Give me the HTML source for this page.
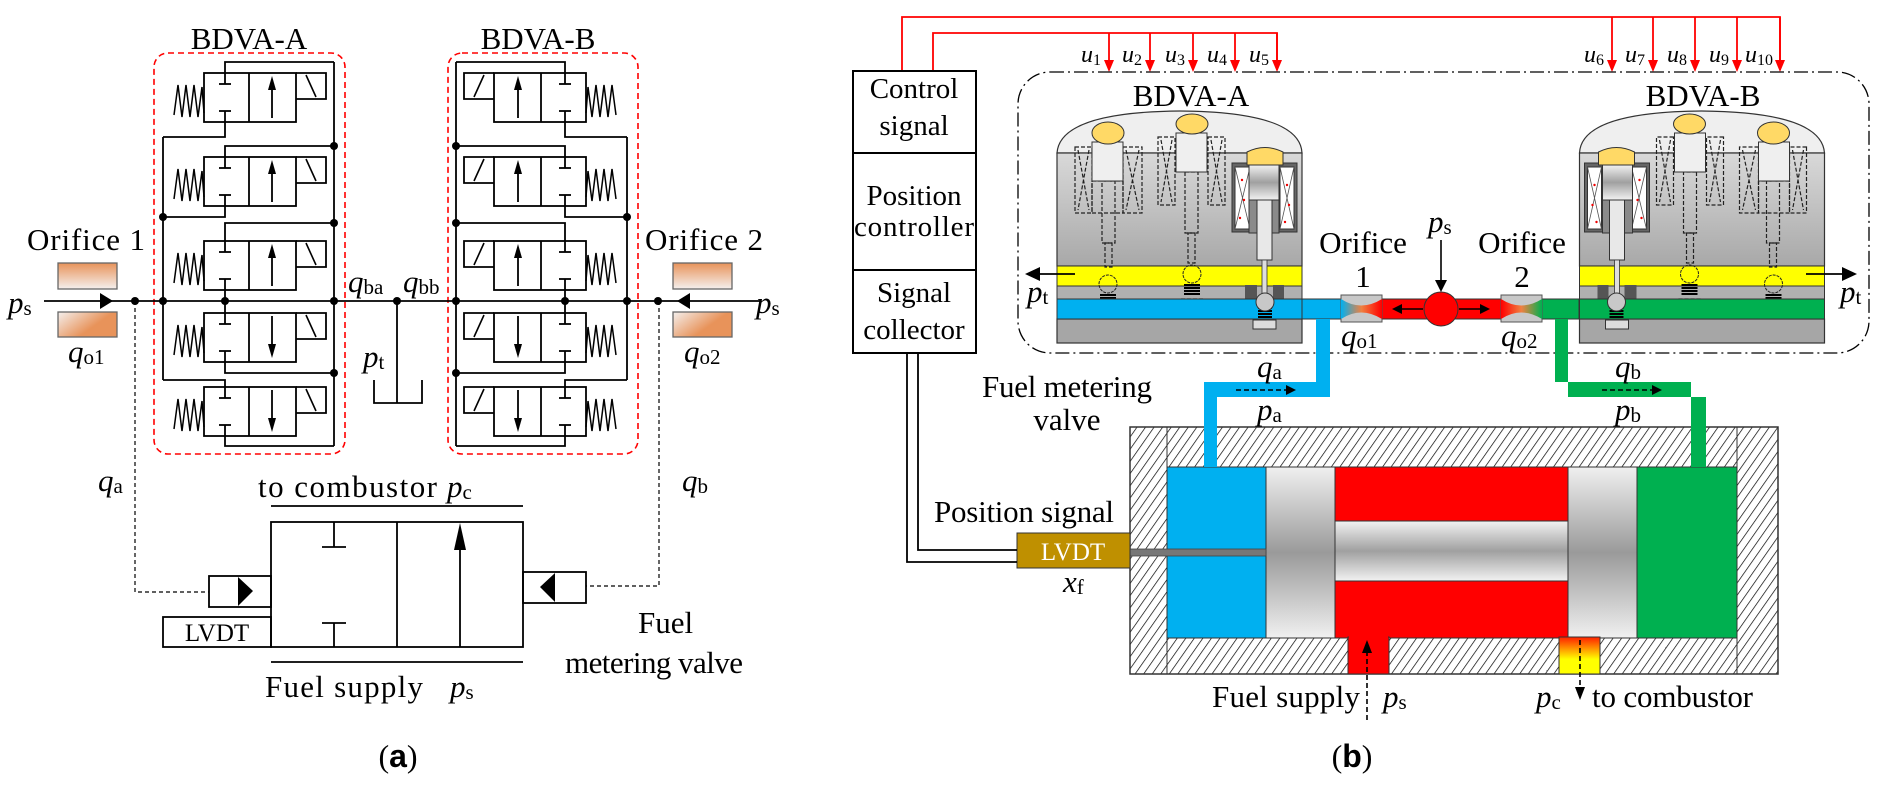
<!DOCTYPE html>
<html><head><meta charset="utf-8"><style>
html,body{margin:0;padding:0;background:#fff}
svg{display:block}
svg text{font-family:"Liberation Serif","DejaVu Serif","Times New Roman",serif;fill:#000}
.i{font-style:italic}
</style></head><body>
<svg width="1887" height="786" viewBox="0 0 1887 786" xmlns="http://www.w3.org/2000/svg" font-family="Liberation Serif, DejaVu Serif, serif">
<defs>
<linearGradient id="or1" x1="0" y1="0" x2="0" y2="1"><stop offset="0" stop-color="#e8935a"/><stop offset="1" stop-color="#f4f0ee"/></linearGradient>
<linearGradient id="or2" x1="0" y1="0" x2="1" y2="0.6"><stop offset="0" stop-color="#f4f0ee"/><stop offset="0.7" stop-color="#e8935a"/></linearGradient>
<linearGradient id="body" x1="0" y1="0" x2="0" y2="1"><stop offset="0" stop-color="#d9d9d9"/><stop offset="1" stop-color="#a8a8a8"/></linearGradient>
<linearGradient id="pist" x1="0" y1="0" x2="0" y2="1"><stop offset="0" stop-color="#f0f0f0"/><stop offset="0.5" stop-color="#9a9a9a"/><stop offset="1" stop-color="#f0f0f0"/></linearGradient>
<linearGradient id="rod" x1="0" y1="0" x2="0" y2="1"><stop offset="0" stop-color="#f2f2f2"/><stop offset="0.5" stop-color="#a0a0a0"/><stop offset="1" stop-color="#f2f2f2"/></linearGradient>
<linearGradient id="o1g" x1="0" y1="0" x2="1" y2="0"><stop offset="0" stop-color="#00b0f0"/><stop offset="0.5" stop-color="#f08040"/><stop offset="1" stop-color="#ff0000"/></linearGradient>
<linearGradient id="o2g" x1="0" y1="0" x2="1" y2="0"><stop offset="0" stop-color="#ff0000"/><stop offset="0.5" stop-color="#f08040"/><stop offset="1" stop-color="#00b050"/></linearGradient>
<linearGradient id="pcg" x1="0" y1="0" x2="0" y2="1"><stop offset="0" stop-color="#ff2000"/><stop offset="0.6" stop-color="#ffff00"/></linearGradient>
<pattern id="hatch" width="7" height="7" patternUnits="userSpaceOnUse" patternTransform="rotate(35)"><rect width="7" height="7" fill="#fff"/><line x1="0" y1="0" x2="0" y2="7" stroke="#000" stroke-width="1.4"/></pattern>
<g id="sv">
<rect x="204" y="0" width="92" height="49" fill="none" stroke="#000" stroke-width="1.8"/>
<line x1="249" y1="0" x2="249" y2="49" stroke="#000" stroke-width="1.8"/>
<polyline points="174,42 178,12 182,44 186,12 190,44 194,12 198,44 202,14 204,40" fill="none" stroke="#000" stroke-width="1.5"/>
<line x1="225" y1="0" x2="225" y2="11" stroke="#000" stroke-width="1.8"/><line x1="219" y1="11" x2="231" y2="11" stroke="#000" stroke-width="1.8"/>
<line x1="225" y1="49" x2="225" y2="38" stroke="#000" stroke-width="1.8"/><line x1="219" y1="38" x2="231" y2="38" stroke="#000" stroke-width="1.8"/>
<polyline points="296,0 326,0 326,26 296,26" fill="none" stroke="#000" stroke-width="1.8"/>
<line x1="306" y1="2" x2="316" y2="24" stroke="#000" stroke-width="1.6"/>
</g>
<g id="bv">
<path d="M1057,153 Q1060,112 1180,111 Q1300,112 1302,153 Z" fill="#efefef" stroke="#333" stroke-width="1.2"/>
<rect x="1057" y="153" width="245" height="113" fill="url(#body)" stroke="#333" stroke-width="1.2"/>
<rect x="1057" y="266" width="245" height="20" fill="#ffff00" stroke="#333" stroke-width="1"/>
<rect x="1057" y="286" width="245" height="13" fill="#b0b0b0" stroke="#333" stroke-width="1"/>
<rect x="1057" y="319" width="245" height="24" fill="#a6a6a6" stroke="#333" stroke-width="1.2"/>
<g fill="none" stroke="#222" stroke-width="1.2" stroke-dasharray="4,2">
<rect x="1075" y="147" width="17" height="66"/><rect x="1123" y="147" width="19" height="66"/>
<path d="M1078,150 L1089,210 M1089,150 L1078,210 M1126,150 L1139,210 M1139,150 L1126,210"/>
<rect x="1092" y="181" width="31" height="32"/>
<rect x="1102" y="181" width="13" height="62"/><rect x="1105" y="243" width="7" height="24"/>
<rect x="1097" y="307" width="22" height="10"/>
<rect x="1158" y="137" width="17" height="68"/><rect x="1208" y="137" width="17" height="68"/>
<path d="M1161,140 L1172,202 M1172,140 L1161,202 M1211,140 L1222,202 M1222,140 L1211,202"/>
<rect x="1185" y="172" width="13" height="61"/><rect x="1188" y="233" width="7" height="30"/>
<rect x="1181" y="299" width="22" height="8"/>
</g>
<rect x="1092" y="142" width="31" height="39" fill="#efefef" stroke="#333" stroke-width="1"/>
<rect x="1176" y="133" width="31" height="39" fill="#efefef" stroke="#333" stroke-width="1"/>
<ellipse cx="1108" cy="133" rx="16" ry="11" fill="#ffd966" stroke="#333"/>
<ellipse cx="1192" cy="124" rx="16" ry="10" fill="#ffd966" stroke="#333"/>
<circle cx="1108" cy="284" r="9" fill="none" stroke="#222" stroke-dasharray="3,1"/>
<circle cx="1192" cy="274" r="9" fill="none" stroke="#222" stroke-dasharray="3,1"/>
<path d="M1100,295 h16 M1100,298 h16 M1100,301 h16 M1100,304 h16 M1184,285 h16 M1184,288 h16 M1184,291 h16 M1184,294 h16" stroke="#000" stroke-width="2"/>
<rect x="1232" y="163" width="65" height="69" fill="#666" stroke="#333"/>
<rect x="1235" y="167" width="15" height="62" fill="#fff" stroke="#333"/>
<rect x="1280" y="167" width="14" height="62" fill="#fff" stroke="#333"/>
<path d="M1235,167 L1250,229 M1250,167 L1235,229 M1280,167 L1294,229 M1294,167 L1280,229" stroke="#555" stroke-width="0.8"/>
<g fill="#e00"><circle cx="1242" cy="180" r="1.2"/><circle cx="1244" cy="200" r="1.2"/><circle cx="1240" cy="218" r="1.2"/><circle cx="1287" cy="185" r="1.2"/><circle cx="1289" cy="205" r="1.2"/><circle cx="1285" cy="222" r="1.2"/></g>
<rect x="1249" y="200" width="30" height="33" fill="#8a8a8a" stroke="#333"/>
<rect x="1249" y="165" width="30" height="35" fill="url(#rod)" stroke="#333"/>
<path d="M1247,165 L1247,152 Q1265,143 1283,152 L1283,165 Z" fill="#ffd966" stroke="#333"/>
<rect x="1257" y="200" width="15" height="60" fill="#e8e8e8" stroke="#333"/>
<rect x="1262" y="260" width="5" height="37" fill="#ddd" stroke="#333" stroke-width="0.8"/>
<rect x="1245" y="285" width="12" height="14" fill="#555"/><rect x="1273" y="285" width="11" height="14" fill="#555"/>
</g>
<g id="bv2">
<rect x="1253" y="320" width="23" height="9" fill="#ddd" stroke="#333"/>
<path d="M1258,308 h14 M1258,311 h14 M1258,314 h14 M1258,317 h14" stroke="#000" stroke-width="2"/>
<circle cx="1265" cy="302" r="9" fill="#c8c8c8" stroke="#333"/>
</g>
</defs>

<text x="249" y="49" font-size="31" text-anchor="middle">BDVA-A</text>
<text x="538" y="49" font-size="31" text-anchor="middle">BDVA-B</text>
<rect x="154" y="53" width="191" height="401" rx="14" fill="none" stroke="#f00" stroke-width="1.6" stroke-dasharray="6,4"/>
<rect x="448" y="53" width="190" height="401" rx="14" fill="none" stroke="#f00" stroke-width="1.6" stroke-dasharray="6,4"/>

<g>
<use href="#sv" y="73"/><use href="#sv" y="157"/><use href="#sv" y="241"/><use href="#sv" y="313"/><use href="#sv" y="387"/>
</g>
<g transform="translate(790,0) scale(-1,1)">
<use href="#sv" y="73"/><use href="#sv" y="157"/><use href="#sv" y="241"/><use href="#sv" y="313"/><use href="#sv" y="387"/>
</g>
<g stroke="#000" stroke-width="1.8" fill="none">
<line x1="272" y1="118" x2="272" y2="80"/><line x1="272" y1="202" x2="272" y2="164"/><line x1="272" y1="286" x2="272" y2="248"/>
<line x1="272" y1="316" x2="272" y2="354"/><line x1="272" y1="390" x2="272" y2="428"/>
<line x1="518" y1="118" x2="518" y2="80"/><line x1="518" y1="202" x2="518" y2="164"/><line x1="518" y1="286" x2="518" y2="248"/>
<line x1="518" y1="316" x2="518" y2="354"/><line x1="518" y1="390" x2="518" y2="428"/>
<line x1="334" y1="62" x2="334" y2="446"/><line x1="163" y1="137" x2="163" y2="380"/>
<polyline points="225,73 225,62 334,62"/><polyline points="225,122 225,137 163,137"/>
<polyline points="225,157 225,146 334,146"/><polyline points="225,206 225,217 163,217"/>
<polyline points="225,241 225,223 334,223"/><line x1="225" y1="290" x2="225" y2="313"/>
<polyline points="225,362 225,373 334,373"/><polyline points="163,380 225,380 225,387"/>
<polyline points="225,436 225,446 334,446"/>
<line x1="456" y1="62" x2="456" y2="446"/><line x1="627" y1="137" x2="627" y2="380"/>
<polyline points="565,73 565,62 456,62"/><polyline points="565,122 565,137 627,137"/>
<polyline points="565,157 565,146 456,146"/><polyline points="565,206 565,217 627,217"/>
<polyline points="565,241 565,223 456,223"/><line x1="565" y1="290" x2="565" y2="313"/>
<polyline points="565,362 565,373 456,373"/><polyline points="627,380 565,380 565,387"/>
<polyline points="565,436 565,446 456,446"/>
<line x1="44" y1="301" x2="760" y2="301"/>
<line x1="397" y1="301" x2="397" y2="403"/>
<polyline points="374,380 374,403 422,403 422,380"/>
</g>
<g fill="#000">
<polygon points="113,301 100,293 100,309"/><polygon points="677,301 690,293 690,309"/>
<polygon points="272,76 268,90 276,90"/><polygon points="272,160 268,174 276,174"/><polygon points="272,244 268,258 276,258"/>
<polygon points="272,358 268,344 276,344"/><polygon points="272,432 268,418 276,418"/>
<polygon points="518,76 514,90 522,90"/><polygon points="518,160 514,174 522,174"/><polygon points="518,244 514,258 522,258"/>
<polygon points="518,358 514,344 522,344"/><polygon points="518,432 514,418 522,418"/>
<circle cx="135" cy="301" r="4"/><circle cx="163" cy="301" r="4"/><circle cx="225" cy="301" r="4"/><circle cx="334" cy="301" r="4"/>
<circle cx="397" cy="301" r="4"/><circle cx="456" cy="301" r="4"/><circle cx="565" cy="301" r="4"/><circle cx="627" cy="301" r="4"/><circle cx="658" cy="301" r="4"/>
<circle cx="334" cy="146" r="4"/><circle cx="163" cy="217" r="4"/><circle cx="334" cy="223" r="4"/><circle cx="334" cy="373" r="4"/>
<circle cx="456" cy="146" r="4"/><circle cx="627" cy="217" r="4"/><circle cx="456" cy="223" r="4"/><circle cx="456" cy="373" r="4"/>
</g>
<rect x="58" y="263" width="59" height="26" fill="url(#or1)" stroke="#666" stroke-width="1.3"/>
<rect x="58" y="312" width="59" height="25" fill="url(#or2)" stroke="#666" stroke-width="1.3"/>
<rect x="673" y="263" width="59" height="26" fill="url(#or1)" stroke="#666" stroke-width="1.3"/>
<rect x="673" y="312" width="59" height="25" fill="url(#or2)" stroke="#666" stroke-width="1.3"/>
<text x="27" y="250" font-size="31" textLength="118">Orifice 1</text>
<text x="645" y="250" font-size="31" textLength="118">Orifice 2</text>
<text x="8" y="313" font-size="31" class="i">p<tspan font-size="21" font-style="normal" dy="2">s</tspan></text>
<text x="756" y="313" font-size="31" class="i">p<tspan font-size="21" font-style="normal" dy="2">s</tspan></text>
<text x="68" y="362" font-size="31" class="i">q<tspan font-size="21" font-style="normal" dy="2">o1</tspan></text>
<text x="684" y="362" font-size="31" class="i">q<tspan font-size="21" font-style="normal" dy="2">o2</tspan></text>
<text x="348" y="292" font-size="31" class="i">q<tspan font-size="21" font-style="normal" dy="2">ba</tspan></text>
<text x="403" y="292" font-size="31" class="i">q<tspan font-size="21" font-style="normal" dy="2">bb</tspan></text>
<text x="363" y="367" font-size="31" class="i">p<tspan font-size="21" font-style="normal" dy="2">t</tspan></text>

<g stroke="#000" stroke-width="1.2" stroke-dasharray="4,3" fill="none">
<polyline points="135,301 135,592 209,592"/><polyline points="659,301 659,586 586,586"/>
</g>
<text x="98" y="491" font-size="31" class="i">q<tspan font-size="21" font-style="normal" dy="2">a</tspan></text>
<text x="682" y="491" font-size="31" class="i">q<tspan font-size="21" font-style="normal" dy="2">b</tspan></text>

<g stroke="#000" stroke-width="1.8" fill="none">
<rect x="271" y="522" width="252" height="125"/>
<line x1="397" y1="522" x2="397" y2="647"/>
<line x1="460" y1="647" x2="460" y2="540"/>
<line x1="334" y1="522" x2="334" y2="547"/><line x1="322" y1="547" x2="346" y2="547"/>
<line x1="334" y1="647" x2="334" y2="623"/><line x1="322" y1="623" x2="346" y2="623"/>
<line x1="271" y1="506" x2="523" y2="506"/><line x1="271" y1="662" x2="523" y2="662"/>
<rect x="209" y="576" width="62" height="31"/>
<rect x="523" y="572" width="63" height="31"/>
<rect x="163" y="617" width="108" height="30"/>
</g>
<g fill="#000">
<polygon points="460,523 454,550 466,550"/>
<polygon points="238,577 253,591 238,606"/>
<polygon points="555,573 540,587 555,602"/>
</g>
<text x="217" y="641" font-size="25" text-anchor="middle" dx="0"><tspan x="217">LVDT</tspan></text>
<text x="258" y="497" font-size="31" textLength="179">to combustor</text>
<text x="447" y="497" font-size="31" class="i">p<tspan font-size="21" font-style="normal" dy="2">c</tspan></text>
<text x="265" y="697" font-size="31" textLength="158">Fuel supply</text>
<text x="450" y="697" font-size="31" class="i">p<tspan font-size="21" font-style="normal" dy="2">s</tspan></text>
<text x="638" y="633" font-size="31">Fuel</text>
<text x="565" y="673" font-size="31" textLength="178">metering valve</text>
<text x="398" y="767" font-size="32" text-anchor="middle">(<tspan font-family="Liberation Sans, sans-serif" font-weight="bold">a</tspan>)</text>

<g stroke="#f00" stroke-width="1.8" fill="none">
<polyline points="902,71 902,17 1780,17 1780,70"/>
<polyline points="933,71 933,33 1277,33 1277,70"/>
<line x1="1109" y1="33" x2="1109" y2="64"/><line x1="1150" y1="33" x2="1150" y2="64"/><line x1="1193" y1="33" x2="1193" y2="64"/><line x1="1235" y1="33" x2="1235" y2="64"/><line x1="1277" y1="33" x2="1277" y2="64"/>
<line x1="1612" y1="17" x2="1612" y2="64"/><line x1="1653" y1="17" x2="1653" y2="64"/><line x1="1695" y1="17" x2="1695" y2="64"/><line x1="1737" y1="17" x2="1737" y2="64"/><line x1="1780" y1="17" x2="1780" y2="64"/>
</g>
<g fill="#f00">
<polygon points="1104,60 1114,60 1109,72"/><polygon points="1145,60 1155,60 1150,72"/><polygon points="1188,60 1198,60 1193,72"/><polygon points="1230,60 1240,60 1235,72"/><polygon points="1272,60 1282,60 1277,72"/>
<polygon points="1607,60 1617,60 1612,72"/><polygon points="1648,60 1658,60 1653,72"/><polygon points="1690,60 1700,60 1695,72"/><polygon points="1732,60 1742,60 1737,72"/><polygon points="1775,60 1785,60 1780,72"/>
</g>
<g font-size="24">
<text x="1081" y="62" class="i">u<tspan font-size="16" font-style="normal" dy="3">1</tspan></text>
<text x="1122" y="62" class="i">u<tspan font-size="16" font-style="normal" dy="3">2</tspan></text>
<text x="1165" y="62" class="i">u<tspan font-size="16" font-style="normal" dy="3">3</tspan></text>
<text x="1207" y="62" class="i">u<tspan font-size="16" font-style="normal" dy="3">4</tspan></text>
<text x="1249" y="62" class="i">u<tspan font-size="16" font-style="normal" dy="3">5</tspan></text>
<text x="1584" y="62" class="i">u<tspan font-size="16" font-style="normal" dy="3">6</tspan></text>
<text x="1625" y="62" class="i">u<tspan font-size="16" font-style="normal" dy="3">7</tspan></text>
<text x="1667" y="62" class="i">u<tspan font-size="16" font-style="normal" dy="3">8</tspan></text>
<text x="1709" y="62" class="i">u<tspan font-size="16" font-style="normal" dy="3">9</tspan></text>
<text x="1745" y="62" class="i">u<tspan font-size="16" font-style="normal" dy="3">10</tspan></text>
</g>

<g stroke="#000" stroke-width="2" fill="none">
<rect x="853" y="71" width="123" height="282"/>
<line x1="853" y1="153" x2="976" y2="153"/><line x1="853" y1="270" x2="976" y2="270"/>
</g>
<g font-size="29" text-anchor="middle">
<text x="914" y="98">Control</text><text x="914" y="135">signal</text>
<text x="914" y="205">Position</text><text x="914" y="236" textLength="120">controller</text>
<text x="914" y="302">Signal</text><text x="914" y="339">collector</text>
</g>

<rect x="1018" y="72" width="851" height="281" rx="32" fill="none" stroke="#000" stroke-width="1.3" stroke-dasharray="14,4,2,4"/>
<text x="1191" y="106" font-size="31" text-anchor="middle">BDVA-A</text>
<text x="1703" y="106" font-size="31" text-anchor="middle">BDVA-B</text>

<rect x="1302" y="299" width="40" height="20" fill="#00b0f0" stroke="#333" stroke-width="1"/>
<rect x="1382" y="299" width="120" height="20" fill="#ff0000" stroke="#333" stroke-width="1"/>
<rect x="1542" y="299" width="37" height="20" fill="#00b050" stroke="#333" stroke-width="1"/>
<path d="M1341,295 h41 v27 h-41 z" fill="#c8c8c8" stroke="#555"/>
<path d="M1341,299 Q1361,312 1382,299 L1382,319 Q1361,306 1341,319 Z" fill="url(#o1g)"/>
<path d="M1501,295 h41 v27 h-41 z" fill="#c8c8c8" stroke="#555"/>
<path d="M1501,299 Q1521,312 1542,299 L1542,319 Q1521,306 1501,319 Z" fill="url(#o2g)"/>
<ellipse cx="1441" cy="309" rx="17" ry="17" fill="#ff0000" stroke="#333"/>
<g stroke="#000" stroke-width="1.6">
<line x1="1423" y1="309" x2="1400" y2="309"/><line x1="1459" y1="309" x2="1482" y2="309"/>
<line x1="1441" y1="240" x2="1441" y2="284"/>
</g>
<g fill="#000">
<polygon points="1392,309 1402,304 1402,314"/><polygon points="1490,309 1480,304 1480,314"/>
<polygon points="1441,292 1435,280 1447,280"/>
</g>
<text x="1363" y="253" font-size="31" text-anchor="middle">Orifice</text>
<text x="1363" y="287" font-size="31" text-anchor="middle">1</text>
<text x="1522" y="253" font-size="31" text-anchor="middle">Orifice</text>
<text x="1522" y="287" font-size="31" text-anchor="middle">2</text>
<text x="1428" y="232" font-size="31" class="i">p<tspan font-size="21" font-style="normal" dy="2">s</tspan></text>
<text x="1341" y="346" font-size="31" class="i">q<tspan font-size="21" font-style="normal" dy="2">o1</tspan></text>
<text x="1501" y="346" font-size="31" class="i">q<tspan font-size="21" font-style="normal" dy="2">o2</tspan></text>

<use href="#bv"/>
<rect x="1057" y="299" width="245" height="20" fill="#00b0f0" stroke="#333" stroke-width="1"/>
<use href="#bv2"/>
<g transform="translate(2881.5,0) scale(-1,1)">
<use href="#bv"/>
<rect x="1057" y="299" width="245" height="20" fill="#00b050" stroke="#333" stroke-width="1"/>
<use href="#bv2"/>
</g>
<g stroke="#000" stroke-width="1.8"><line x1="1075" y1="274" x2="1036" y2="274"/><line x1="1806" y1="274" x2="1845" y2="274"/></g>
<g fill="#000"><polygon points="1025,274 1040,267 1040,281"/><polygon points="1857,274 1842,267 1842,281"/></g>
<text x="1027" y="302" font-size="31" class="i">p<tspan font-size="21" font-style="normal" dy="2">t</tspan></text>
<text x="1840" y="302" font-size="31" class="i">p<tspan font-size="21" font-style="normal" dy="2">t</tspan></text>

<rect x="1130" y="427" width="648" height="247" fill="url(#hatch)" stroke="#333" stroke-width="1.5"/>
<line x1="1167" y1="427" x2="1167" y2="674" stroke="#333"/><line x1="1737" y1="427" x2="1737" y2="674" stroke="#333"/>
<rect x="1167" y="467" width="99" height="171" fill="#00b0f0" stroke="#333"/>
<rect x="1266" y="467" width="69" height="171" fill="url(#pist)" stroke="#333"/>
<rect x="1335" y="467" width="233" height="171" fill="#ff0000" stroke="#333"/>
<rect x="1335" y="521" width="233" height="60" fill="url(#rod)" stroke="#333"/>
<rect x="1568" y="467" width="69" height="171" fill="url(#pist)" stroke="#333"/>
<rect x="1637" y="467" width="100" height="171" fill="#00b050" stroke="#333"/>
<rect x="1348" y="637" width="41" height="37" fill="#ff0000" stroke="#333"/>
<rect x="1349" y="630" width="39" height="10" fill="#ff0000"/>
<rect x="1559" y="637" width="41" height="37" fill="url(#pcg)" stroke="#333"/>
<rect x="1130" y="549" width="136" height="7" fill="#777" stroke="#444" stroke-width="0.8"/>
<path d="M1316,319 V382 H1204 V467 H1217 V397 H1330 V319 Z" fill="#00b0f0"/>
<path d="M1555,319 V382 H1691 V467 H1706 V397 H1568 V319 Z" fill="#00b050"/>
<rect x="1017" y="533" width="113" height="35" fill="#bf9000" stroke="#333"/>
<text x="1073" y="560" font-size="25" text-anchor="middle" style="fill:#fff">LVDT</text>
<g stroke="#000" stroke-width="1.8" fill="none">
<polyline points="907,353 907,562 1017,562"/><polyline points="918,353 918,550 1017,550"/>
</g>
<text x="1063" y="592" font-size="31" class="i">x<tspan font-size="21" font-style="normal" dy="2">f</tspan></text>
<text x="1024" y="522" font-size="31" text-anchor="middle" textLength="180">Position signal</text>
<text x="1067" y="397" font-size="31" text-anchor="middle" textLength="170">Fuel metering</text>
<text x="1067" y="430" font-size="31" text-anchor="middle">valve</text>
<text x="1257" y="377" font-size="31" class="i">q<tspan font-size="21" font-style="normal" dy="2">a</tspan></text>
<text x="1257" y="420" font-size="31" class="i">p<tspan font-size="21" font-style="normal" dy="2">a</tspan></text>
<text x="1615" y="377" font-size="31" class="i">q<tspan font-size="21" font-style="normal" dy="2">b</tspan></text>
<text x="1615" y="420" font-size="31" class="i">p<tspan font-size="21" font-style="normal" dy="2">b</tspan></text>
<g stroke="#000" stroke-width="1.6" stroke-dasharray="5,3">
<line x1="1236" y1="390" x2="1288" y2="390"/><line x1="1602" y1="390" x2="1654" y2="390"/>
<line x1="1367" y1="720" x2="1367" y2="650"/><line x1="1580" y1="640" x2="1580" y2="690"/>
</g>
<g fill="#000">
<polygon points="1296,390 1286,385 1286,395"/><polygon points="1662,390 1652,385 1652,395"/>
<polygon points="1367,640 1362,653 1372,653"/><polygon points="1580,700 1575,687 1585,687"/>
</g>
<text x="1212" y="707" font-size="31" textLength="148">Fuel supply</text>
<text x="1383" y="707" font-size="31" class="i">p<tspan font-size="21" font-style="normal" dy="2">s</tspan></text>
<text x="1536" y="707" font-size="31" class="i">p<tspan font-size="21" font-style="normal" dy="2">c</tspan></text>
<text x="1592" y="707" font-size="31" textLength="161">to combustor</text>
<text x="1352" y="767" font-size="32" text-anchor="middle">(<tspan font-family="Liberation Sans, sans-serif" font-weight="bold">b</tspan>)</text>
</svg>
</body></html>
